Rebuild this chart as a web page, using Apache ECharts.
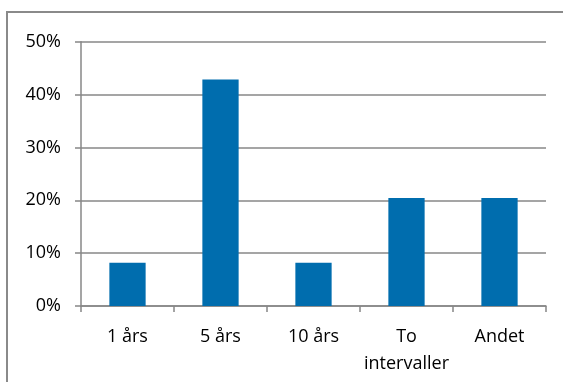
<!DOCTYPE html>
<html>
<head>
<meta charset="utf-8">
<script src="https://cdn.jsdelivr.net/npm/echarts@6/dist/echarts.min.js"></script>
<style>
  html, body { margin: 0; padding: 0; background: #fff; }
  #chart { width: 563px; height: 382px; }
</style>
</head>
<body>
<div id="chart"></div>
<script>
// Share of answers per interval choice (percent)
const categories = ['1 års', '5 års', '10 års', 'To\nintervaller', 'Andet'];
const shares = [8.16, 42.86, 8.16, 20.41, 20.41];
const yTicks = [0, 10, 20, 30, 40, 50];

const gridColor = '#878787';
const textStyle = { fontFamily: 'Open Sans', fontSize: 18, color: '#000' };

const chart = echarts.init(document.getElementById('chart'), null, { renderer: 'canvas' });
chart.setOption({
  animation: false,
  backgroundColor: '#fff',
  graphic: [{
    type: 'rect',
    shape: { x: 7, y: 12, width: 620, height: 420 },
    style: { fill: 'none', stroke: '#8a8a8a', lineWidth: 2 },
    silent: true,
    z: -1
  }],
  grid: { left: 81, right: 17, top: 41.7, bottom: 76 },
  xAxis: {
    type: 'category',
    data: categories,
    axisLine: { lineStyle: { color: gridColor, width: 1.5 } },
    axisTick: { show: true, length: 6, alignWithLabel: false, lineStyle: { color: gridColor, width: 1.5 } },
    axisLabel: Object.assign({ margin: 17, lineHeight: 27, interval: 0 }, textStyle)
  },
  yAxis: {
    type: 'value',
    min: yTicks[0],
    max: yTicks[yTicks.length - 1],
    interval: yTicks[1] - yTicks[0],
    axisLine: { show: true, lineStyle: { color: gridColor, width: 1.5 } },
    axisTick: { show: true, length: 6, lineStyle: { color: gridColor, width: 1.5 } },
    splitLine: { lineStyle: { color: gridColor, width: 1.5 } },
    axisLabel: Object.assign({ margin: 20, formatter: v => v + '%' }, textStyle)
  },
  series: [{
    type: 'bar',
    data: shares,
    barWidth: '39%',
    itemStyle: { color: '#006DAE' }
  }]
});
</script>
</body>
</html>
